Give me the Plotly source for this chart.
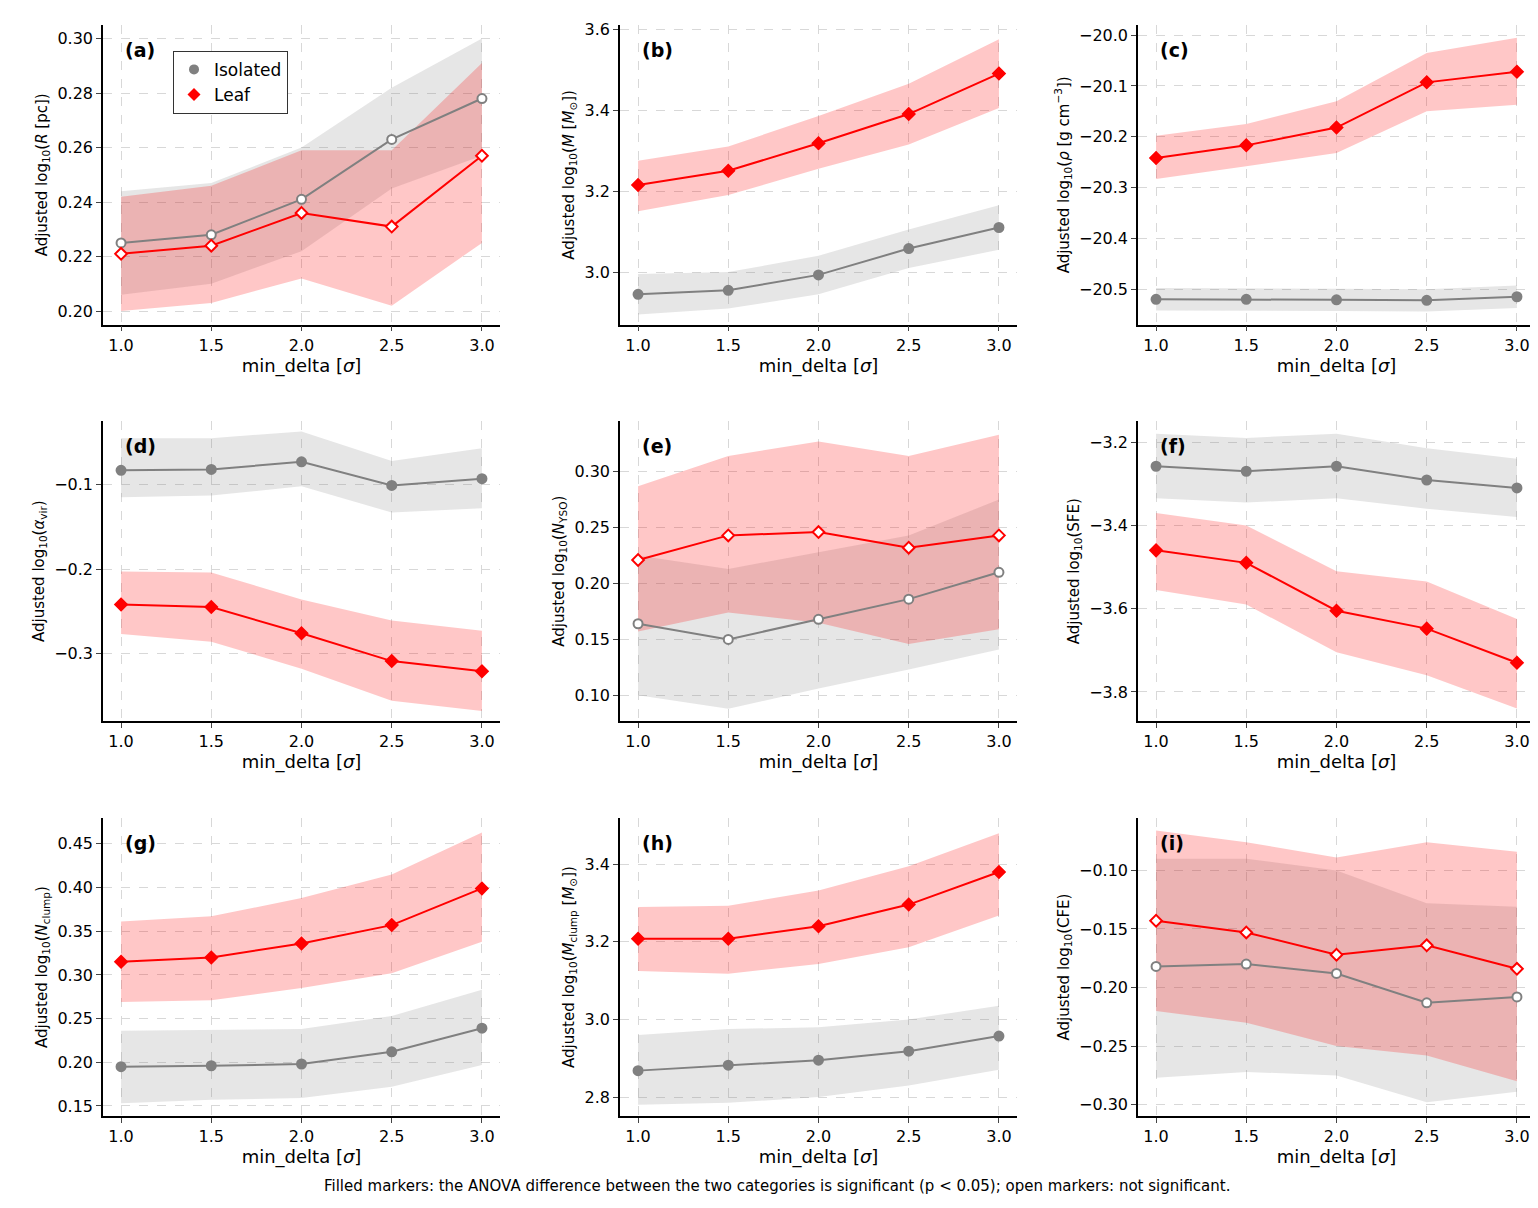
import plotly.graph_objects as go
from plotly.subplots import make_subplots

x_delta = [1.0, 1.5, 2.0, 2.5, 3.0]

# per panel: isolated mean/lo/hi, leaf mean/lo/hi, significance
iso_a = [0.225, 0.228, 0.241, 0.263, 0.278]
iso_a_lo = [0.206, 0.210, 0.222, 0.245, 0.257]
iso_a_hi = [0.244, 0.247, 0.260, 0.282, 0.300]
leaf_a = [0.221, 0.224, 0.236, 0.231, 0.257]
leaf_a_lo = [0.200, 0.203, 0.212, 0.202, 0.225]
leaf_a_hi = [0.242, 0.246, 0.259, 0.259, 0.291]

iso_b = [2.945, 2.955, 2.993, 3.058, 3.110]
iso_b_lo = [2.895, 2.910, 2.945, 3.010, 3.055]
iso_b_hi = [2.995, 3.000, 3.040, 3.105, 3.165]
leaf_b = [3.215, 3.250, 3.318, 3.390, 3.490]
leaf_b_lo = [3.150, 3.190, 3.255, 3.315, 3.405]
leaf_b_hi = [3.275, 3.310, 3.385, 3.465, 3.575]

iso_c = [-20.520, -20.520, -20.521, -20.522, -20.515]
iso_c_lo = [-20.542, -20.542, -20.543, -20.544, -20.537]
iso_c_hi = [-20.498, -20.498, -20.499, -20.500, -20.493]
leaf_c = [-20.242, -20.217, -20.182, -20.093, -20.072]
leaf_c_lo = [-20.283, -20.258, -20.232, -20.150, -20.137]
leaf_c_hi = [-20.198, -20.175, -20.130, -20.035, -20.005]

iso_d = [-0.083, -0.082, -0.073, -0.101, -0.093]
iso_d_lo = [-0.115, -0.113, -0.102, -0.133, -0.128]
iso_d_hi = [-0.045, -0.045, -0.037, -0.072, -0.057]
leaf_d = [-0.242, -0.245, -0.276, -0.309, -0.321]
leaf_d_lo = [-0.277, -0.286, -0.318, -0.356, -0.368]
leaf_d_hi = [-0.203, -0.204, -0.236, -0.261, -0.273]

iso_e = [0.164, 0.150, 0.168, 0.186, 0.210]
iso_e_lo = [0.100, 0.088, 0.106, 0.123, 0.141]
iso_e_hi = [0.225, 0.213, 0.228, 0.243, 0.275]
leaf_e = [0.221, 0.243, 0.246, 0.232, 0.243]
leaf_e_lo = [0.157, 0.174, 0.165, 0.146, 0.159]
leaf_e_hi = [0.287, 0.314, 0.327, 0.314, 0.333]

iso_f = [-3.258, -3.270, -3.258, -3.291, -3.310]
iso_f_lo = [-3.335, -3.345, -3.335, -3.360, -3.380]
iso_f_hi = [-3.180, -3.190, -3.180, -3.215, -3.240]
leaf_f = [-3.460, -3.490, -3.605, -3.648, -3.730]
leaf_f_lo = [-3.555, -3.590, -3.705, -3.760, -3.840]
leaf_f_hi = [-3.370, -3.400, -3.510, -3.535, -3.625]

iso_g = [0.195, 0.196, 0.198, 0.212, 0.239]
iso_g_lo = [0.153, 0.157, 0.159, 0.172, 0.197]
iso_g_hi = [0.236, 0.237, 0.238, 0.253, 0.283]
leaf_g = [0.315, 0.320, 0.336, 0.357, 0.399]
leaf_g_lo = [0.269, 0.271, 0.285, 0.302, 0.338]
leaf_g_hi = [0.361, 0.367, 0.388, 0.415, 0.463]

iso_h = [2.868, 2.882, 2.895, 2.918, 2.957]
iso_h_lo = [2.780, 2.785, 2.800, 2.830, 2.870]
iso_h_hi = [2.960, 2.975, 2.980, 3.000, 3.035]
leaf_h = [3.208, 3.208, 3.240, 3.296, 3.380]
leaf_h_lo = [3.125, 3.118, 3.143, 3.186, 3.268]
leaf_h_hi = [3.290, 3.293, 3.332, 3.395, 3.480]

iso_i = [-0.182, -0.180, -0.188, -0.213, -0.208]
iso_i_lo = [-0.277, -0.272, -0.275, -0.298, -0.289]
iso_i_hi = [-0.090, -0.090, -0.100, -0.128, -0.131]
leaf_i = [-0.143, -0.153, -0.172, -0.164, -0.184]
leaf_i_lo = [-0.220, -0.230, -0.250, -0.258, -0.280]
leaf_i_hi = [-0.066, -0.076, -0.089, -0.076, -0.084]

panels = [
    ("(a)", "Adjusted log<sub>10</sub>(<i>R</i> [pc])", iso_a, iso_a_lo, iso_a_hi, leaf_a, leaf_a_lo, leaf_a_hi, False, [0.195, 0.305], 0.02, ".2f"),
    ("(b)", "Adjusted log<sub>10</sub>(<i>M</i> [<i>M</i><sub>⊙</sub>])", iso_b, iso_b_lo, iso_b_hi, leaf_b, leaf_b_lo, leaf_b_hi, True, [2.87, 3.61], 0.2, ".1f"),
    ("(c)", "Adjusted log<sub>10</sub>(<i>ρ</i> [g cm<sup>−3</sup>])", iso_c, iso_c_lo, iso_c_hi, leaf_c, leaf_c_lo, leaf_c_hi, True, [-20.57, -19.98], 0.1, ".1f"),
    ("(d)", "Adjusted log<sub>10</sub>(<i>α</i><sub>vir</sub>)", iso_d, iso_d_lo, iso_d_hi, leaf_d, leaf_d_lo, leaf_d_hi, True, [-0.38, -0.025], 0.1, ".1f"),
    ("(e)", "Adjusted log<sub>10</sub>(<i>N</i><sub>YSO</sub>)", iso_e, iso_e_lo, iso_e_hi, leaf_e, leaf_e_lo, leaf_e_hi, False, [0.077, 0.345], 0.05, ".2f"),
    ("(f)", "Adjusted log<sub>10</sub>(SFE)", iso_f, iso_f_lo, iso_f_hi, leaf_f, leaf_f_lo, leaf_f_hi, True, [-3.87, -3.15], 0.2, ".1f"),
    ("(g)", "Adjusted log<sub>10</sub>(<i>N</i><sub>clump</sub>)", iso_g, iso_g_lo, iso_g_hi, leaf_g, leaf_g_lo, leaf_g_hi, True, [0.138, 0.48], 0.05, ".2f"),
    ("(h)", "Adjusted log<sub>10</sub>(<i>M</i><sub>clump</sub> [<i>M</i><sub>⊙</sub>])", iso_h, iso_h_lo, iso_h_hi, leaf_h, leaf_h_lo, leaf_h_hi, True, [2.75, 3.52], 0.2, ".1f"),
    ("(i)", "Adjusted log<sub>10</sub>(CFE)", iso_i, iso_i_lo, iso_i_hi, leaf_i, leaf_i_lo, leaf_i_hi, False, [-0.31, -0.055], 0.05, ".2f"),
]

W, H = 1538, 1208
col_px = [(95, 492), (612, 1009), (1130, 1527)]
row_px = [(12, 313), (410, 711), (808, 1108)]

fig = make_subplots(rows=3, cols=3)

for k, (lab, ytitle, iso, iso_lo, iso_hi, leaf, leaf_lo, leaf_hi, sig, yr, dt, fmt) in enumerate(panels):
    r, c = k // 3 + 1, k % 3 + 1
    for lo, hi, col in [(iso_lo, iso_hi, "rgba(128,128,128,0.2)"), (leaf_lo, leaf_hi, "rgba(255,0,0,0.22)")]:
        fig.add_trace(go.Scatter(x=x_delta + x_delta[::-1], y=hi + lo[::-1], fill="toself",
                                 fillcolor=col, line=dict(width=0), mode="lines",
                                 hoverinfo="skip", showlegend=False), row=r, col=c)
    for ys, col, sym, name in [(iso, "gray", "circle", "Isolated"), (leaf, "red", "diamond", "Leaf")]:
        fig.add_trace(go.Scatter(x=x_delta, y=ys, mode="lines+markers", name=name,
                                 line=dict(color=col, width=2),
                                 marker=dict(symbol=sym, size=9, color=col if sig else "white",
                                             line=dict(color=col, width=2)),
                                 showlegend=False), row=r, col=c)
    n = k + 1
    xa = "xaxis" if n == 1 else f"xaxis{n}"
    ya = "yaxis" if n == 1 else f"yaxis{n}"
    x0, x1 = col_px[c - 1]
    y0, y1 = row_px[r - 1]
    fig.layout[xa].domain = [x0 / W, x1 / W]
    fig.layout[ya].domain = [1 - y1 / H, 1 - y0 / H]
    fig.update_xaxes(range=[0.9, 3.1], tickvals=x_delta, ticktext=["1.0", "1.5", "2.0", "2.5", "3.0"],
                     title=dict(text="min_delta [<i>σ</i>]", standoff=2), row=r, col=c)
    fig.update_yaxes(range=yr, dtick=dt, tickformat=fmt,
                     title=dict(text=ytitle, font=dict(size=15), standoff=6), row=r, col=c)
    fig.add_annotation(x=0.05, y=0.96, xref=f"x{'' if n == 1 else n} domain",
                       yref=f"y{'' if n == 1 else n} domain", text=f"<b>{lab}</b>",
                       showarrow=False, xanchor="left", yanchor="top", font=dict(size=19, color="black"))

# legend entries
fig.add_trace(go.Scatter(x=[None], y=[None], mode="markers", name="Isolated",
                         marker=dict(symbol="circle", size=10, color="gray")), row=1, col=1)
fig.add_trace(go.Scatter(x=[None], y=[None], mode="markers", name="Leaf",
                         marker=dict(symbol="diamond", size=10, color="red")), row=1, col=1)

fig.update_xaxes(showline=True, linecolor="black", linewidth=1.5, ticks="outside", ticklen=5,
                 showgrid=True, gridcolor="#d8d8d8", griddash="dash", zeroline=False,
                 tickfont=dict(size=16), title_font=dict(size=18))
fig.update_yaxes(showline=True, linecolor="black", linewidth=1.5, ticks="outside", ticklen=5,
                 showgrid=True, gridcolor="#d8d8d8", griddash="dash", zeroline=False,
                 tickfont=dict(size=16))

fig.add_annotation(x=0.5, y=1 - 1189 / H, xref="paper", yref="paper", showarrow=False,
                   text="Filled markers: the ANOVA difference between the two categories is significant (p < 0.05); open markers: not significant.",
                   font=dict(size=15, color="black"))

fig.update_layout(width=W, height=H, margin=dict(l=0, r=0, t=0, b=0),
                  plot_bgcolor="white", paper_bgcolor="white",
                  font=dict(family="DejaVu Sans", color="black"),
                  legend=dict(x=165 / W, y=1 - 38 / H, xanchor="left", yanchor="top",
                              bordercolor="#333", borderwidth=1, bgcolor="white",
                              font=dict(size=17)))

fig.write_html("out.html")
